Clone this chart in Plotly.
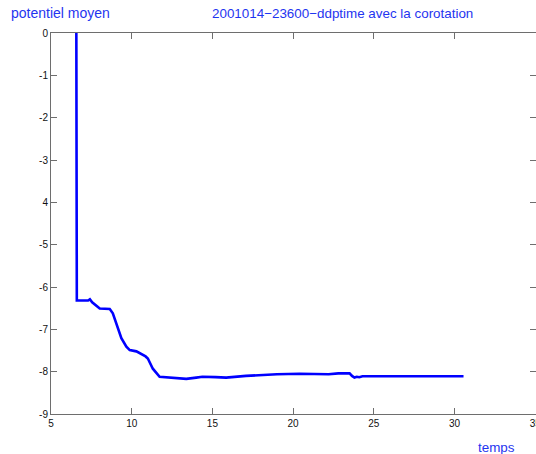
import plotly.graph_objects as go

# mean potential versus time
temps = [6.57, 6.57, 6.60, 6.60, 7.0, 7.30, 7.41, 7.55, 8.02, 8.30, 8.64, 8.83, 9.14,
         9.36, 9.67, 9.88, 10.29, 10.86, 11.00, 11.31, 11.73, 12.10, 12.53, 13.38,
         14.00, 14.38, 15.20, 15.85, 17.08, 17.90, 19.00, 20.40, 21.60, 22.20,
         22.80, 23.20, 23.50, 23.65, 23.80, 23.95, 24.10, 24.30, 25.30,
         26.50, 27.80, 29.00, 30.56]
potentiel = [0.0, -3.15, -3.15, -6.32, -6.32, -6.32, -6.29, -6.36, -6.51, -6.51,
             -6.52, -6.62, -6.94, -7.21, -7.41, -7.49, -7.52, -7.64, -7.69, -7.93,
             -8.12, -8.13, -8.14, -8.17, -8.14, -8.12, -8.13, -8.14, -8.10, -8.08,
             -8.06, -8.05, -8.05, -8.06, -8.04, -8.05, -8.04, -8.10, -8.14, -8.12,
             -8.13, -8.11, -8.11, -8.12, -8.11, -8.11, -8.11]

y_ticks = [0, -1, -2, -3, -4, -5, -6, -7, -8, -9]
y_tick_text = ["0", "-1", "-2", "-3", "4", "-5", "-6", "-7", "-8", "-9"]
x_ticks = [5, 10, 15, 20, 25, 30, 35]

blue_text = "#1f35f0"
font_family = "Liberation Sans, Arial, sans-serif"

fig = go.Figure()
fig.add_trace(go.Scatter(x=temps, y=potentiel, mode="lines",
                         line=dict(color="#0000ff", width=2.6),
                         showlegend=False, hoverinfo="skip"))

axis_common = dict(showgrid=False, zeroline=False, showline=True,
                   linecolor="#6e6e6e", linewidth=1, mirror="ticks",
                   ticks="inside", ticklen=6, tickcolor="#6e6e6e",
                   ticklabeloverflow="allow", automargin=False,
                   tickfont=dict(family=font_family, size=10, color="#111111"))

fig.update_layout(
    width=536, height=454,
    margin=dict(l=51, r=0, t=33, b=40),
    paper_bgcolor="white", plot_bgcolor="white",
    xaxis=dict(range=[5, 35.05], tickvals=x_ticks,
               ticktext=[str(v) for v in x_ticks], **axis_common),
    yaxis=dict(range=[-9, 0], tickvals=y_ticks, ticktext=y_tick_text,
               **axis_common),
    annotations=[
        dict(text="potentiel moyen", xref="paper", yref="paper",
             x=-0.087, y=1.052, xanchor="left", yanchor="middle",
             showarrow=False,
             font=dict(family=font_family, size=14, color=blue_text)),
        dict(text="2001014\u221223600\u2212ddptime avec la corotation",
             xref="paper", yref="paper", x=0.602, y=1.052,
             xanchor="center", yanchor="middle", showarrow=False,
             font=dict(family=font_family, size=13.4, color=blue_text)),
        dict(text="temps", xref="paper", yref="paper",
             x=0.918, y=-0.087, xanchor="center", yanchor="middle",
             showarrow=False,
             font=dict(family=font_family, size=13.4, color=blue_text)),
    ],
)

fig.write_html("out.html")
